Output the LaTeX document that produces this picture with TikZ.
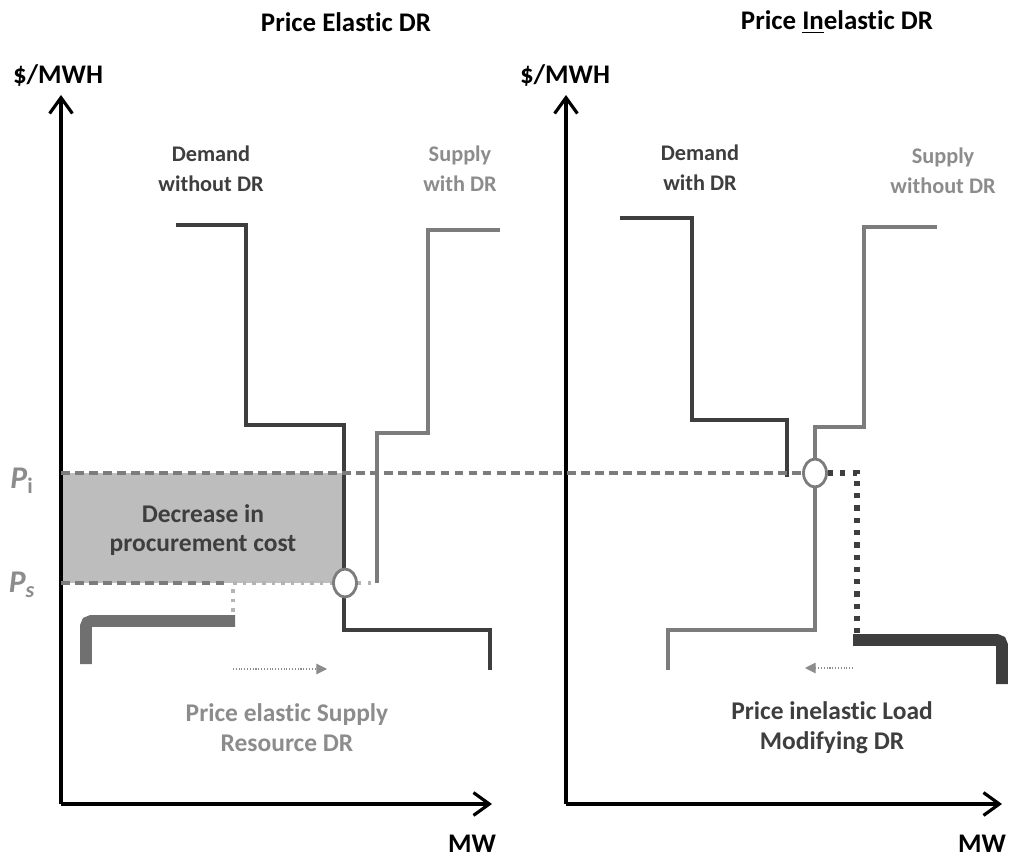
\documentclass[tikz,border=0pt]{standalone}
\usepackage{fontspec}
\setmainfont{Carlito}[Ligatures=NoCommon]
\usetikzlibrary{arrows.meta,shapes.geometric}
\definecolor{demandgray}{HTML}{3E3E3E}
\definecolor{supplygray}{HTML}{7C7C7C}
\definecolor{labelgray}{HTML}{8C8C8C}
\definecolor{areagray}{HTML}{BDBDBD}
\definecolor{dotgray}{HTML}{B4B4B4}
\tikzset{
	axis/.style={line width=1.8pt, -{Straight Barb[length=9pt,width=13pt,line width=1.8pt]}},
	demand/.style={draw=demandgray, line width=2.8pt, line join=miter},
	supply/.style={draw=supplygray, line width=2.8pt, line join=miter},
	price/.style={draw=supplygray, line width=2.2pt, dash pattern=on 5pt off 3pt},
	loadshift/.style={draw=demandgray, line width=3pt, dash pattern=on 3pt off 4pt},
	lightdots/.style={draw=dotgray, line width=2.2pt, dash pattern=on 2pt off 3.5pt},
	bracket/.style={line width=6.8pt, rounded corners=3pt},
	move/.style={draw=labelgray, line width=0.6pt, densely dotted, -{Triangle[length=6pt,width=6pt]}},
	equil/.style={ellipse, draw=supplygray, fill=white, line width=1.6pt, minimum width=0.46cm, minimum height=0.56cm, inner sep=0pt},
	title/.style={font=\fontsize{15.3}{18}\selectfont\bfseries},
	curvelabel/.style={align=center, font=\fontsize{12.7}{17}\selectfont\bfseries},
	note/.style={align=center, font=\fontsize{14.5}{17}\selectfont\bfseries},
	pricelabel/.style={text=labelgray, font=\fontsize{18}{20}\selectfont\bfseries\itshape},
}
\begin{document}
\begin{tikzpicture}[x=0.02cm, y=-0.02cm]
	\useasboundingbox (0,0) rectangle (1014,858);
	\coordinate (oL) at (61,804);
	\coordinate (oR) at (566,804);
	%area
	\fill[areagray] (61,473) rectangle (344,583);
	\node[note, text=demandgray] (decr) at (203,530) {Decrease in\\procurement cost};
	%titles
	\node[title] (tElastic) at (346,22) {Price Elastic DR};
	\node[title] (tInelastic) at (837,22) {Price \underline{In}elastic DR};
	%axis
	\draw[axis] (oL) -- (61,95);
	\draw[axis] (oL) -- (492,804);
	\draw[axis] (oR) -- (566,95);
	\draw[axis] (oR) -- (1002,804);
	\node[title] (yLabL) at (58,76) {\$/MWH};
	\node[title] (yLabR) at (565,76) {\$/MWH};
	\node[title, anchor=base, inner sep=0pt] (xLabL) at (472,852) {MW};
	\node[title, anchor=base, inner sep=0pt] (xLabR) at (982,852) {MW};
	%prices
	\node[pricelabel] (pI) at (22,481) {P\textsubscript{\upshape i}};
	\node[pricelabel] (pS) at (22,585) {P\textsubscript{s}};
	%left plots
	\draw[demand] (176,225) -- (246,225) -- (246,425) -- (344,425) -- (344,630) -- (490,630) -- (490,670);
	\draw[supply] (500,230) -- (428,230) -- (428,433) -- (377,433) -- (377,583);
	\node[equil] (eqL) at (345,583) {};
	\draw[price] (61,583) -- (228,583);
	\draw[lightdots] (233,583) -- (eqL.west);
	\draw[lightdots] (eqL.east) -- (377,583);
	\draw[lightdots] (233,589) -- (233,617);
	\draw[bracket, draw=supplygray!90!black] (235,621) -- (86,621) -- (86,664);
	\draw[move] (233,669) -- (327,669);
	\node[curvelabel, text=demandgray] (dWithout) at (211,169) {Demand\\without DR};
	\node[curvelabel, text=labelgray] (sWith) at (460,169) {Supply\\with DR};
	\node[note, text=labelgray] (noteL) at (287,728) {Price elastic Supply\\Resource DR};
	%right plots
	\draw[demand] (620,218) -- (692,218) -- (692,420) -- (787,420) -- (787,477);
	\draw[supply] (937,227) -- (864,227) -- (864,427) -- (815,427) -- (815,630) -- (668,630) -- (668,670);
	\node[equil] (eqR) at (815,473) {};
	\draw[price] (61,473) -- (eqR.west);
	\draw[loadshift] (eqR.east) -- (857,473) -- (857,633);
	\draw[bracket, draw=demandgray] (853,640) -- (1002,640) -- (1002,684);
	\draw[move] (853,668) -- (805,668);
	\node[curvelabel, text=demandgray] (dWith) at (700,168) {Demand\\with DR};
	\node[curvelabel, text=labelgray] (sWithout) at (943,171) {Supply\\without DR};
	\node[note, text=demandgray] (noteR) at (832,728) {Price inelastic Load\\Modifying DR};
\end{tikzpicture}
\end{document}
